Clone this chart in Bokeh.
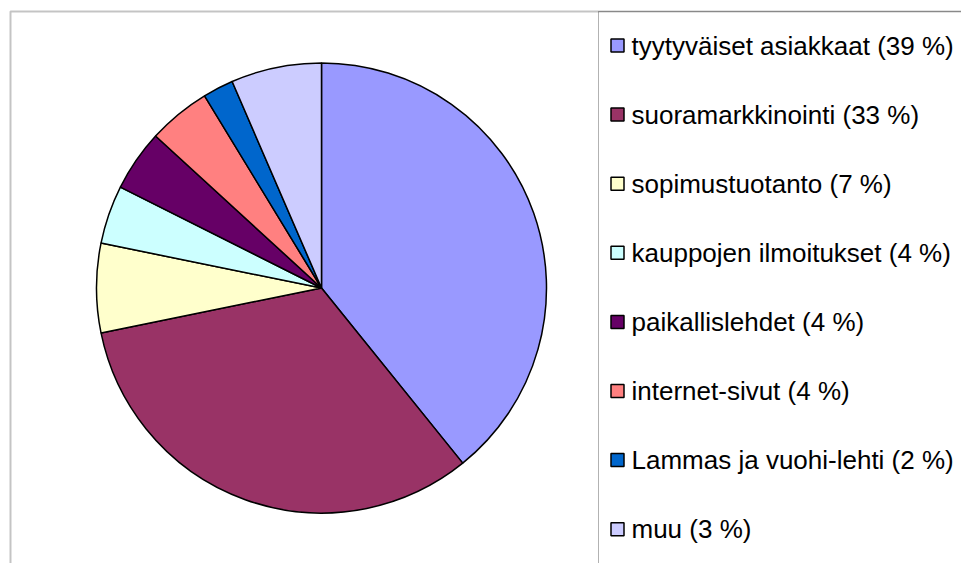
import numpy as np
from bokeh.plotting import figure
from bokeh.models import ColumnDataSource, Range1d, BoxAnnotation
from bokeh.core.properties import value
from bokeh.embed import file_html
from bokeh.resources import INLINE

# ---- data ----
labels = [
    "tyytyväiset asiakkaat (39 %)",
    "suoramarkkinointi (33 %)",
    "sopimustuotanto (7 %)",
    "kauppojen ilmoitukset (4 %)",
    "paikallislehdet (4 %)",
    "internet-sivut (4 %)",
    "Lammas ja vuohi-lehti (2 %)",
    "muu (3 %)",
]
shares = [39.2, 32.6, 6.4, 4.2, 4.4, 4.5, 2.2, 6.5]
colors = ["#9999FF", "#993366", "#FFFFCC", "#CCFFFF",
          "#660066", "#FF8080", "#0066CC", "#CCCCFF"]

W, H = 961, 563

p = figure(width=W, height=H, output_backend="svg", toolbar_location=None,
           x_range=Range1d(0, W), y_range=Range1d(0, H),
           min_border=0, outline_line_color=None)
p.axis.visible = False
p.grid.visible = False
p.background_fill_color = "white"
p.border_fill_color = "white"

# picture pixel row -> data y
def Y(py):
    return H - py

# pie: clockwise from 12 o'clock
vals = np.array(shares, dtype=float)
ang = vals / vals.sum() * 2 * np.pi
cum = np.concatenate([[0.0], np.cumsum(ang)])
src = ColumnDataSource(dict(
    start=np.pi / 2 - cum[:-1],
    end=np.pi / 2 - cum[1:],
    color=colors,
    label=labels,
))
p.wedge(x=321, y=Y(287.5), radius=225, start_angle="start", end_angle="end",
        direction="clock", fill_color="color", line_color="black",
        line_width=1.5, source=src)

# chart frame and legend divider
p.add_layout(BoxAnnotation(left=10, right=5000, top=Y(11), bottom=-500,
                           fill_alpha=0, line_color="#3a3a3a", line_width=2))
p.add_layout(BoxAnnotation(left=598, right=5000, top=Y(11), bottom=-500,
                           fill_alpha=0, line_color="black", line_width=1))

# legend
n = len(labels)
leg = ColumnDataSource(dict(
    x=[617] * n,
    tx=[631] * n,
    y=[Y(45 + 69.1 * i) for i in range(n)],
    color=colors,
    label=labels,
))
p.scatter(x="x", y="y", size=13, marker="square", fill_color="color",
          line_color="black", line_width=1.5, source=leg)
p.text(x="tx", y="y", text="label", text_font=value("Liberation Sans"),
       text_font_size="26px", text_baseline="middle", text_color="black",
       source=leg)

open("out.html", "w").write(file_html(p, INLINE))
